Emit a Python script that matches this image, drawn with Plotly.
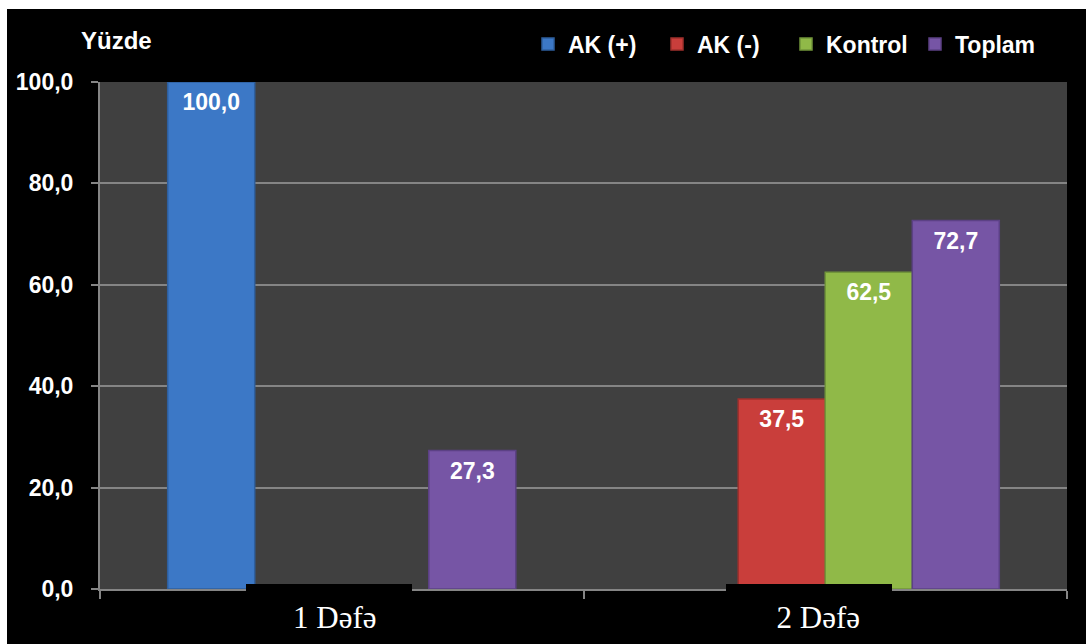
import plotly.graph_objects as go

# Data
categories = ["1 Dəfə", "2 Dəfə"]
series_names = ["AK (+)", "AK (-)", "Kontrol", "Toplam"]
ak_plus = [100.0, None]
ak_minus = [None, 37.5]
kontrol = [None, 62.5]
toplam = [27.3, 72.7]
y_ticks = [0, 20, 40, 60, 80, 100]

series_values = [ak_plus, ak_minus, kontrol, toplam]
bar_colors = ["#3C78C6", "#C93E3B", "#90B948", "#7655A5"]
edge_colors = ["#2E5F9E", "#A0302D", "#71953A", "#5C4185"]

W, H = 1086, 644
L, R, T, B = 100, 19, 82, 55
PW, PH = W - L - R, H - T - B


def px_x(px):
    return (px - L) / PW


def px_y(py):
    return (H - B - py) / PH


fig = go.Figure()

for name, vals, col, edge in zip(series_names, series_values, bar_colors, edge_colors):
    fig.add_trace(go.Bar(
        x=categories, y=vals, name=name,
        offsetgroup=name,
        marker=dict(color=col, line=dict(color=edge, width=1.5)),
        hoverinfo="x+y+name",
    ))

font_bold = dict(family="Liberation Sans, Arial", size=23, color="white", weight="bold")

# Value labels placed just under the top of each bar
for name, vals in zip(series_names, series_values):
    fig.add_trace(go.Scatter(
        x=categories, y=vals, mode="markers+text",
        offsetgroup=name, showlegend=False, hoverinfo="skip",
        marker=dict(size=16, opacity=0),
        text=[None if v is None else f"{v:.1f}".replace(".", ",") for v in vals],
        textposition="bottom center",
        textfont=font_bold,
    ))

fig.update_layout(
    width=W, height=H,
    margin=dict(l=L, r=R, t=T, b=B, autoexpand=False),
    paper_bgcolor="black",
    plot_bgcolor="#404040",
    barmode="group", bargap=0.28, bargroupgap=0,
    scattermode="group", scattergap=0.28,
    showlegend=True,
    legend=dict(
        orientation="h", x=px_x(528), xanchor="left", y=px_y(44), yanchor="middle",
        font=font_bold, bgcolor="rgba(0,0,0,0)", entrywidth=84, traceorder="normal",
    ),
    xaxis=dict(
        type="category", tickson="boundaries", ticks="outside", ticklen=8,
        tickcolor="#858585", tickwidth=2, automargin=False,
        showline=True, linecolor="#858585", linewidth=2,
        showgrid=False, ticklabelshift=-7,
        tickfont=dict(family="Liberation Serif, Times New Roman", size=31, color="white"),
    ),
    yaxis=dict(
        range=[0, 100], tickvals=y_ticks, tickformat=".1f", automargin=False,
        ticks="outside", ticklen=7, tickcolor="#858585", tickwidth=2,
        ticklabelstandoff=13,
        showline=True, linecolor="#858585", linewidth=2,
        showgrid=True, gridcolor="#858585", gridwidth=1.5,
        zeroline=False,
        tickfont=font_bold,
    ),
    separators=",.",
    annotations=[
        dict(text="Yüzde", xref="paper", yref="paper", x=px_x(116), y=px_y(40),
             xanchor="center", yanchor="middle", showarrow=False,
             font=dict(font_bold, size=24)),
    ],
    shapes=[
        # white frame on the top and left edges
        dict(type="rect", xref="paper", yref="paper", x0=px_x(0), x1=px_x(W),
             y0=px_y(9), y1=px_y(0), fillcolor="white", line=dict(width=0), layer="above"),
        dict(type="rect", xref="paper", yref="paper", x0=px_x(0), x1=px_x(7),
             y0=px_y(H), y1=px_y(0), fillcolor="white", line=dict(width=0), layer="above"),
        # black backgrounds behind the category labels
        dict(type="rect", xref="paper", yref="paper", x0=px_x(246), x1=px_x(412),
             y0=px_y(594), y1=px_y(584), fillcolor="black", line=dict(width=0), layer="above"),
        dict(type="rect", xref="paper", yref="paper", x0=px_x(726), x1=px_x(892),
             y0=px_y(594), y1=px_y(584), fillcolor="black", line=dict(width=0), layer="above"),
    ],
)

fig.write_html("out.html")
